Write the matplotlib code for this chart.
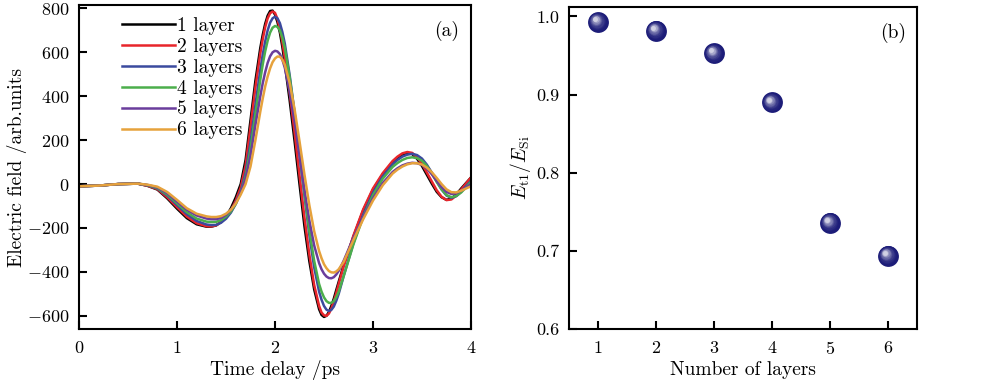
import numpy as np
import matplotlib
matplotlib.use('Agg')
from matplotlib import pyplot as plt
from matplotlib.transforms import ScaledTranslation
from matplotlib.colors import to_rgb

plt.rcParams['font.family'] = 'cmr10'
plt.rcParams['mathtext.fontset'] = 'cm'
plt.rcParams['axes.formatter.use_mathtext'] = True
plt.rcParams['font.size'] = 13

# (a) time-domain waveforms
t = [0, 0.2, 0.4, 0.6, 0.7, 0.8, 0.9, 1.0, 1.1, 1.2, 1.3, 1.35, 1.4, 1.45, 1.5, 1.55,
     1.6, 1.65, 1.7, 1.75, 1.8,
     1.85, 1.875, 1.9, 1.925, 1.95, 1.975, 2.0, 2.025, 2.05, 2.075, 2.1,
     2.15, 2.2, 2.25, 2.3, 2.35, 2.4, 2.45,
     2.475, 2.5, 2.525, 2.55, 2.575, 2.6, 2.625, 2.65, 2.7,
     2.8, 2.9, 3.0, 3.1, 3.2,
     3.25, 3.3, 3.35, 3.4, 3.45, 3.5, 3.55, 3.6, 3.65, 3.7, 3.75, 3.8, 3.85,
     3.9, 3.95, 4.0]
e1 = [-10, -7, 0, 2, -8, -25, -65, -112, -155, -183, -194, -194, -188, -172, -148, -110,
      -60, 0, 110, 290, 470,
      620, 680, 730, 767, 788, 790, 772, 738, 690, 625, 548,
      380, 195, 0, -190, -350, -480, -570,
      -596, -605, -600, -583, -555, -522, -483, -445, -370,
      -240, -120, -25, 45, 100,
      120, 135, 141, 137, 115, 82, 42, 2, -35, -60, -72, -66, -47, -20, 5, 30]
e2 = [-10, -7, 0, 2, -8, -23, -60, -105, -148, -178, -192, -193, -188, -173, -152, -120,
      -75, -15, 85, 260, 440,
      595, 660, 715, 755, 778, 786, 780, 752, 708, 648, 575,
      415, 235, 40, -150, -320, -460, -555,
      -585, -598, -600, -590, -567, -535, -497, -455, -375,
      -235, -115, -20, 50, 105,
      125, 140, 146, 142, 122, 92, 52, 12, -28, -58, -73, -70, -52, -25, 3, 30]
e3 = [-10, -7, 0, 2, -6, -20, -52, -95, -137, -168, -184, -187, -186, -176, -158, -130,
      -90, -35, 50, 190, 360,
      520, 590, 650, 700, 735, 755, 762, 755, 733, 693, 640,
      495, 325, 140, -50, -230, -380, -490,
      -527, -555, -572, -578, -573, -558, -532, -500, -420,
      -270, -140, -40, 35, 90,
      110, 125, 134, 138, 132, 116, 88, 52, 12, -25, -52, -63, -55, -35, -10, 15]
e4 = [-10, -7, 0, 2, -5, -18, -48, -88, -128, -157, -171, -173, -172, -164, -148, -125,
      -90, -40, 35, 160, 320,
      475, 545, 605, 653, 690, 712, 720, 716, 700, 667, 620,
      485, 320, 140, -40, -210, -350, -455,
      -490, -516, -533, -541, -541, -533, -515, -490, -420,
      -275, -150, -50, 25, 78,
      96, 110, 119, 122, 118, 106, 82, 48, 10, -24, -50, -60, -54, -38, -15, 10]
e5 = [-10, -7, 0, 2, -4, -15, -42, -80, -117, -143, -157, -160, -160, -154, -140, -118,
      -85, -40, 25, 130, 270,
      400, 460, 510, 552, 582, 600, 607, 604, 592, 567, 530,
      420, 285, 130, -25, -165, -280, -360,
      -388, -408, -421, -428, -429, -424, -412, -395, -350,
      -245, -150, -65, 5, 55,
      72, 85, 93, 97, 95, 87, 70, 45, 15, -14, -36, -45, -42, -30, -15, 0]
e6 = [-10, -7, 0, 2, -3, -12, -36, -72, -110, -135, -147, -150, -150, -146, -135, -117,
      -88, -48, 0, 80, 200,
      330, 390, 445, 490, 527, 555, 572, 581, 580, 567, 543,
      460, 340, 195, 45, -95, -215, -305,
      -338, -365, -383, -396, -402, -403, -398, -388, -355,
      -255, -160, -75, -5, 48,
      66, 80, 90, 95, 95, 89, 75, 54, 28, 0, -24, -37, -38, -30, -20, -10]
labels = ['1 layer', '2 layers', '3 layers', '4 layers', '5 layers', '6 layers']
colors = ['#000000', '#e8252b', '#3b4a9e', '#4cae4c', '#6a3d9c', '#e6a23c']

# (b) transmission ratio
layers = [1, 2, 3, 4, 5, 6]
ratio = [0.993, 0.982, 0.953, 0.890, 0.736, 0.694]

fig = plt.figure(figsize=(10, 3.86), dpi=100)
ax1 = fig.add_axes([0.079, 0.1477, 0.392, 0.839])
ax2 = fig.add_axes([0.569, 0.1477, 0.348, 0.834])

for e, lab, c in zip([e1, e2, e3, e4, e5, e6], labels, colors):
    ax1.plot(t, e, color=c, lw=1.8, label=lab, solid_joinstyle='round')
ax1.set_xlim(0, 4)
ax1.set_ylim(-660, 815)
ax1.set_xticks([0, 1, 2, 3, 4])
ax1.set_yticks([-600, -400, -200, 0, 200, 400, 600, 800])
ax1.set_xlabel('Time delay /ps', fontsize=14, labelpad=3)
ax1.set_ylabel('Electric field /arb.units', fontsize=14, labelpad=0)
ax1.legend(loc='upper left', frameon=False, fontsize=14, handlelength=2.7,
           handletextpad=0.15, labelspacing=0.15, borderaxespad=0.2,
           bbox_to_anchor=(0.08, 1.0))
ax1.text(0.97, 0.95, '(a)', transform=ax1.transAxes, ha='right', va='top',
         fontsize=14)

# shaded spheres
navy = np.array(to_rgb('#1c1c78'))
white = np.array([1.0, 1.0, 1.0])
ms = 15
N = 10
for k in range(N):
    f = k / N
    col = navy * (1 - f ** 2.2) + white * f ** 2.2
    r = ms / 2 / 72
    off = ScaledTranslation(-0.3 * r * f, 0.3 * r * f, fig.dpi_scale_trans)
    ax2.plot(layers, ratio, 'o', ls='none', ms=ms * (1 - 0.85 * f), color=col,
             mec='none', transform=ax2.transData + off, zorder=3 + k)
ax2.set_xlim(0.5, 6.5)
ax2.set_ylim(0.6, 1.012)
ax2.set_xticks(layers)
ax2.set_yticks([0.6, 0.7, 0.8, 0.9, 1.0])
ax2.set_yticklabels(['0.6', '0.7', '0.8', '0.9', '1.0'])
ax2.set_xlabel('Number of layers', fontsize=14, labelpad=3)
ax2.set_ylabel(r'$E_{\rm t1}/E_{\rm Si}$', fontsize=14, labelpad=2)
ax2.text(0.97, 0.95, '(b)', transform=ax2.transAxes, ha='right', va='top',
         fontsize=14)

for ax in (ax1, ax2):
    for s in ax.spines.values():
        s.set_linewidth(1.5)
    ax.tick_params(direction='in', length=6, width=1.5, top=False, right=False,
                   labelsize=13)
    ax.tick_params(axis='x', pad=8)
    ax.tick_params(axis='y', pad=7)

fig.savefig('out.png', dpi=100)
